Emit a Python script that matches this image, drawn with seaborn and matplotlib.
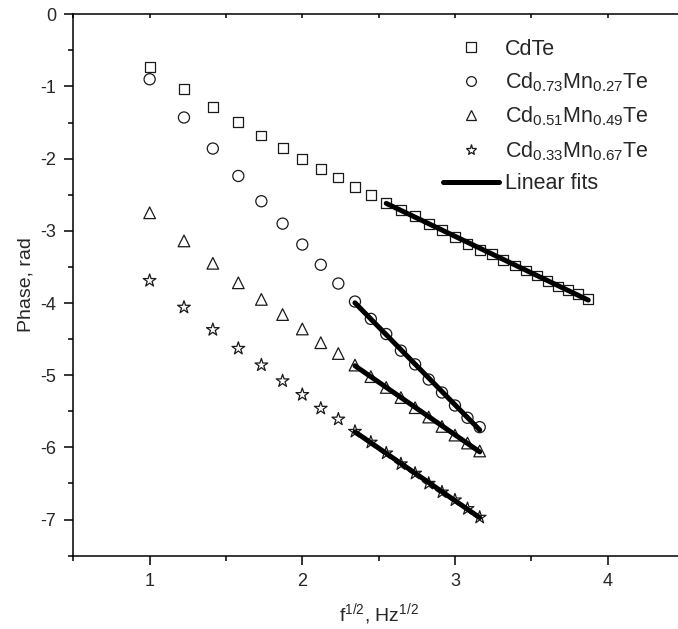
import numpy as np
import pandas as pd
import matplotlib
matplotlib.use("Agg")
import matplotlib.pyplot as plt
from matplotlib.lines import Line2D
from matplotlib.ticker import MultipleLocator
import seaborn as sns

# f^1/2 values (f = 1 ... 15 Hz in steps of 0.5)
x_cdte = [1.000, 1.225, 1.414, 1.581, 1.732, 1.871, 2.000, 2.121, 2.236, 2.345,
          2.449, 2.550, 2.646, 2.739, 2.828, 2.915, 3.000, 3.082, 3.162, 3.240,
          3.317, 3.391, 3.464, 3.536, 3.606, 3.674, 3.742, 3.808, 3.873]
x_mn = [1.000, 1.225, 1.414, 1.581, 1.732, 1.871, 2.000, 2.121, 2.236, 2.345,
        2.449, 2.550, 2.646, 2.739, 2.828, 2.915, 3.000, 3.082, 3.162]

y_cdte = [-0.73, -1.03, -1.28, -1.49, -1.68, -1.85, -2.00, -2.14, -2.26, -2.39,
          -2.50, -2.61, -2.71, -2.79, -2.90, -2.99, -3.08, -3.18, -3.26, -3.32,
          -3.40, -3.48, -3.55, -3.62, -3.69, -3.77, -3.82, -3.88, -3.94]
y_027 = [-0.90, -1.43, -1.86, -2.24, -2.59, -2.90, -3.19, -3.47, -3.73,
         -3.98, -4.22, -4.43, -4.66, -4.85, -5.06, -5.24, -5.42, -5.59, -5.72]
y_049 = [-2.75, -3.14, -3.45, -3.72, -3.95, -4.16, -4.36, -4.55, -4.70,
         -4.86, -5.02, -5.17, -5.31, -5.45, -5.58, -5.71, -5.83, -5.94, -6.05]
y_067 = [-3.69, -4.06, -4.37, -4.63, -4.86, -5.08, -5.27, -5.46, -5.61,
         -5.78, -5.93, -6.08, -6.23, -6.36, -6.50, -6.62, -6.73, -6.85, -6.97]

labels = ["CdTe",
          r"Cd$_{0.73}$Mn$_{0.27}$Te",
          r"Cd$_{0.51}$Mn$_{0.49}$Te",
          r"Cd$_{0.33}$Mn$_{0.67}$Te"]
fit_start = [11, 9, 9, 9]

series = [(x_cdte, y_cdte), (x_mn, y_027), (x_mn, y_049), (x_mn, y_067)]
markers = ["s", "o", "^", "*"]
sizes = [50, 64, 70, 92]

sns.set_style("ticks")
plt.rcParams["font.family"] = ["Liberation Sans", "DejaVu Sans"]
plt.rcParams["mathtext.fontset"] = "custom"
plt.rcParams["mathtext.rm"] = "Liberation Sans"
plt.rcParams["mathtext.it"] = "Liberation Sans"
plt.rcParams["mathtext.default"] = "regular"
plt.rcParams["axes.unicode_minus"] = False

fig = plt.figure(figsize=(6.78, 6.29), dpi=100)
ax = fig.add_axes([0.1081, 0.1166, 0.9007, 0.8607])

for (xs, ys), m, s, start in zip(series, markers, sizes, fit_start):
    df = pd.DataFrame({"x": xs, "y": ys})
    sns.scatterplot(data=df, x="x", y="y", marker=m, s=s, facecolor="none",
                    edgecolor="#1a1a1a", linewidth=0.9, ax=ax, zorder=2)
    # linear fit over the high-frequency part
    seg = df.iloc[start:]
    k, b = np.polyfit(seg["x"], seg["y"], 1)
    xf = np.array([seg["x"].iloc[0], seg["x"].iloc[-1]])
    sns.lineplot(x=xf, y=k * xf + b, color="black", linewidth=3.6, ax=ax,
                 zorder=3)

ax.set_xlim(0.5, 4.5)
ax.set_ylim(-7.5, 0)
ax.xaxis.set_minor_locator(MultipleLocator(0.5))
ax.yaxis.set_minor_locator(MultipleLocator(0.5))
ax.set_xticks([1, 2, 3, 4])
ax.set_yticks(range(-7, 1))

ax.tick_params(axis="both", which="major", direction="out", length=6.5,
               width=1.1, labelsize=13, color="black", pad=6)
ax.tick_params(axis="both", which="minor", direction="out", length=3.6,
               width=1.1, color="black")
ax.tick_params(axis="x", which="both", top=True)
ax.tick_params(axis="x", which="both", labeltop=False)
for t in ax.xaxis.get_major_ticks() + ax.xaxis.get_minor_ticks():
    t.tick2line.set_marker(3)  # top ticks point inward
    t.tick2line.set_markersize(3)
for sp in ax.spines.values():
    sp.set_linewidth(1.1)
    sp.set_color("black")
ax.spines["right"].set_visible(False)

ax.set_xlabel(r"f$^{1/2}$, Hz$^{1/2}$", fontsize=14, labelpad=8)
ax.set_ylabel("Phase, rad", fontsize=14, labelpad=4)

handles = [Line2D([], [], marker=m, ls="none", mfc="none", mec="#1a1a1a",
                  mew=0.9, ms=ms) for m, ms in zip(markers, [6.5, 7, 7.5, 8])]
handles.append(Line2D([], [], color="black", lw=3.6))
ax.legend(handles, labels + ["Linear fits"], loc="upper left",
          bbox_to_anchor=(0.605, 0.955), frameon=False, fontsize=15.5,
          handlelength=2.6, handletextpad=0.3, labelspacing=0.5,
          borderaxespad=0, borderpad=0)

fig.savefig("out.png", dpi=100)
